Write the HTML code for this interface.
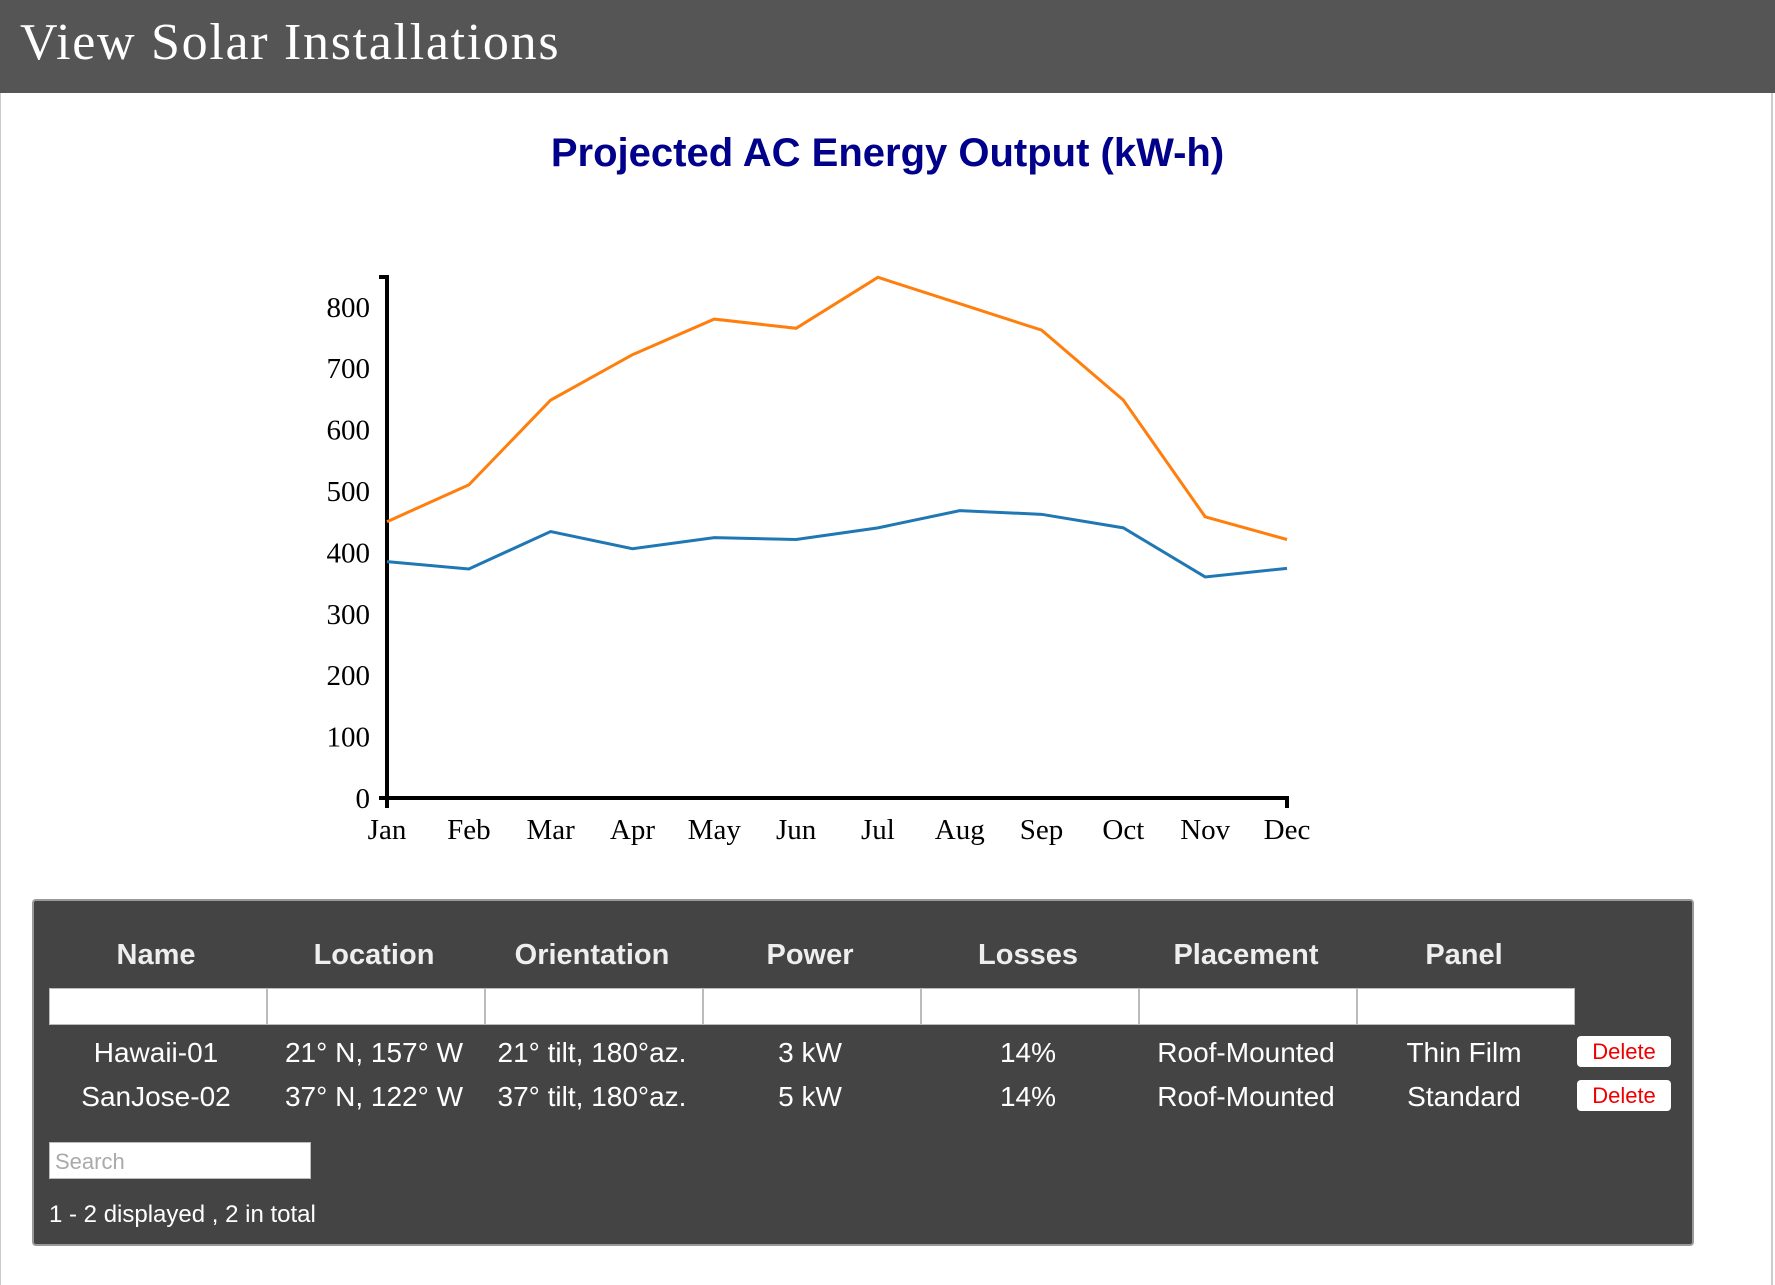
<!DOCTYPE html>
<html><head><meta charset="utf-8"><style>
body{margin:0;width:1775px;height:1285px;background:#fff;position:relative;overflow:hidden;font-family:"Liberation Sans",sans-serif;}
#hdr{position:absolute;left:0;top:0;width:1775px;height:93px;background:#555;}
#hdr span{position:absolute;left:20px;top:13px;font-family:"Liberation Serif",serif;font-size:52px;letter-spacing:1.7px;color:#fff;}
#edge{position:absolute;left:1771px;top:93px;width:2px;height:1192px;background:#ccc;}
#edgel{position:absolute;left:0;top:93px;width:1px;height:1192px;background:#ccc;}
#title{position:absolute;left:0;width:1775px;top:131px;text-align:center;font-weight:bold;font-size:40px;color:#00008b;}
#panel{position:absolute;left:32px;top:899px;width:1658px;height:343px;background:#444;border:2px solid #999;border-radius:4px;}
.th{position:absolute;top:38px;width:218px;text-align:center;font-weight:bold;font-size:29px;color:#eee;}
.filt{position:absolute;top:87px;height:35px;width:216px;background:#fff;border:1px solid #bbb;}
.td{position:absolute;width:218px;text-align:center;font-size:28px;color:#fff;}
.del{position:absolute;left:1543px;width:94px;height:31px;background:#fff;border-radius:4px;color:#e00;font-size:22px;text-align:center;line-height:31px;}
#search{position:absolute;left:15px;top:241px;width:262px;height:37px;background:#fff;border:1px solid #bbb;color:#aaa;font-size:22px;line-height:37px;padding-left:5px;box-sizing:border-box;}
#foot{position:absolute;left:15px;top:300px;font-size:24px;color:#fff;}
</style></head><body>
<div id="hdr"><span>View Solar Installations</span></div>
<div id="edgel"></div>
<div id="edge"></div>
<div id="title">Projected AC Energy Output (kW-h)</div>
<svg id="chart" width="1775" height="900" style="position:absolute;left:0;top:0"></svg>
<div id="panel">
<div class="th" style="left:13px">Name</div>
<div class="th" style="left:231px">Location</div>
<div class="th" style="left:449px">Orientation</div>
<div class="th" style="left:667px">Power</div>
<div class="th" style="left:885px">Losses</div>
<div class="th" style="left:1103px">Placement</div>
<div class="th" style="left:1321px">Panel</div>
<div class="filt" style="left:15px"></div>
<div class="filt" style="left:233px"></div>
<div class="filt" style="left:451px"></div>
<div class="filt" style="left:669px"></div>
<div class="filt" style="left:887px"></div>
<div class="filt" style="left:1105px"></div>
<div class="filt" style="left:1323px"></div>
<div class="td" style="left:13px;top:136px">Hawaii-01</div>
<div class="td" style="left:231px;top:136px">21° N, 157° W</div>
<div class="td" style="left:449px;top:136px">21° tilt, 180°az.</div>
<div class="td" style="left:667px;top:136px">3 kW</div>
<div class="td" style="left:885px;top:136px">14%</div>
<div class="td" style="left:1103px;top:136px">Roof-Mounted</div>
<div class="td" style="left:1321px;top:136px">Thin Film</div>
<div class="del" style="top:135px">Delete</div>
<div class="td" style="left:13px;top:180px">SanJose-02</div>
<div class="td" style="left:231px;top:180px">37° N, 122° W</div>
<div class="td" style="left:449px;top:180px">37° tilt, 180°az.</div>
<div class="td" style="left:667px;top:180px">5 kW</div>
<div class="td" style="left:885px;top:180px">14%</div>
<div class="td" style="left:1103px;top:180px">Roof-Mounted</div>
<div class="td" style="left:1321px;top:180px">Standard</div>
<div class="del" style="top:179px">Delete</div>
<div id="search">Search</div>
<div id="foot">1 - 2 displayed , 2 in total</div>
</div>
<script>
const months=["Jan","Feb","Mar","Apr","May","Jun","Jul","Aug","Sep","Oct","Nov","Dec"];
const sanJose=[450,510,648,722,780,765,848,805,762,648,458,421];
const hawaii=[385,373,434,406,424,421,440,468,462,440,360,374];
const yTicks=[0,100,200,300,400,500,600,700,800];
const NS="http://www.w3.org/2000/svg";
const svg=document.getElementById('chart');
const x0=387,x1=1287,y0=798,yPer=0.614;
const xs=i=>x0+(x1-x0)*i/(months.length-1);
const ys=v=>y0-v*yPer;
function mk(t,a){const e=document.createElementNS(NS,t);for(const k in a)e.setAttribute(k,a[k]);svg.appendChild(e);return e;}
const yax=mk('path',{d:`M${x0-8},277H${x0}V${y0}H${x0-8}`,fill:'none',stroke:'#000','stroke-width':4});


const xax=mk('path',{d:`M${x0},${y0+10}V${y0}H${x1}V${y0+10}`,fill:'none',stroke:'#000','stroke-width':4});


yTicks.forEach(v=>{
  const t=mk('text',{x:x0-17,y:ys(v)+10,'text-anchor':'end','font-family':'Liberation Serif, serif','font-size':29});
  t.textContent=v;
  
  
});
months.forEach((m,i)=>{
  const t=mk('text',{x:xs(i),y:839,'text-anchor':'middle','font-family':'Liberation Serif, serif','font-size':29});
  t.textContent=m;
  
  
});
function line(d,c,n){
  const p=mk('polyline',{points:d.map((v,i)=>xs(i)+','+ys(v)).join(' '),fill:'none',stroke:c,'stroke-width':3});
  
  
}
line(sanJose,'#ff7f0e','sanjose-series-line');
line(hawaii,'#1f77b4','hawaii-series-line');
</script>
</body></html>
